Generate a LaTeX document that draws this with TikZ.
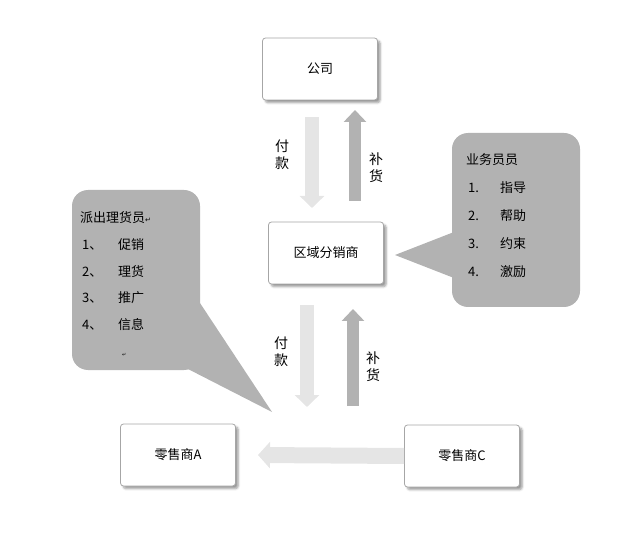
\documentclass[tikz,border=0pt]{standalone}
\usepackage{fontspec}
\setmainfont{Noto Sans CJK SC}
\newfontfamily\symfont{DejaVu Sans}
\usetikzlibrary{arrows.meta,shadows.blur}
\tikzset{
	box/.style={draw=gray!70,thick,fill=white,rounded corners=3pt,minimum width=115pt,minimum height=62pt,blur shadow={shadow blur steps=5},font=\fontsize{13}{15}\selectfont},
	bubble/.style={fill=gray!60,draw=none},
	down/.style={line width=14pt,draw=gray!20,-{Triangle[length=12pt,width=24pt]}},
	up/.style={line width=12pt,draw=gray!60,-{Triangle[length=12pt,width=22pt]}},
	lab/.style={font=\fontsize{14}{17}\selectfont,align=center,inner sep=0pt},
	txt/.style={font=\fontsize{13}{15}\selectfont,anchor=west,inner sep=0pt}
}
\begin{document}
\begin{tikzpicture}[x=1pt,y=-1pt]
		\useasboundingbox (0,0) rectangle (640,545);
		% speech bubbles
		\fill [bubble,rounded corners=16pt] (72,190) rectangle (200,370);
		\fill [bubble] (198,300) -- (272,412) -- (186,368) -- cycle;
		\fill [bubble,rounded corners=16pt] (452,133) rectangle (580,307);
		\fill [bubble] (454,232) -- (395,255) -- (454,278) -- cycle;
		\node [txt] (t0) at (80,218) {派出理货员{\symfont\scriptsize ↵}};
		\foreach \i/\w [count=\n] in {245/促销,272/理货,298/推广,325/信息}{
			\node [txt] at (82,\i) {\n、};
			\node [txt] at (118,\i) {\w};
		}
		\node [txt,font=\symfont\tiny] at (122,355) {↵};
		\node [txt] (t1) at (466,160) {业务员员};
		\foreach \i/\w [count=\n] in {188/指导,216/帮助,244/约束,272/激励}{
			\node [txt] at (468,\i) {\n.};
			\node [txt] at (500,\i) {\w};
		}
		% boxes
		\node [box] (gs) at (320,69) {公司};
		\node [box] (fx) at (326,253) {区域分销商};
		\node [box] (la) at (178,455) {零售商A};
		\node [box] (lc) at (462,456) {零售商C};
		% arrows
		\coordinate (d1a) at (312,117); \coordinate (d1b) at (312,208);
		\coordinate (u1a) at (355,201); \coordinate (u1b) at (355,110);
		\coordinate (d2a) at (307,305); \coordinate (d2b) at (307,407);
		\coordinate (u2a) at (353,406); \coordinate (u2b) at (353,309);
		\draw [down] (d1a) -- (d1b);
		\draw [up] (u1a) -- (u1b);
		\draw [down] (d2a) -- (d2b);
		\draw [up] (u2a) -- (u2b);
		\draw [line width=16pt,draw=gray!20,-{Triangle[length=12pt,width=26pt]}] (lc.west) -- (258,455);
		\node [lab] (p1) at (282,155) {付\\款};
		\node [lab] (b1) at (376,168) {补\\货};
		\node [lab] (p2) at (281,352) {付\\款};
		\node [lab] (b2) at (373,367) {补\\货};
\end{tikzpicture}
\end{document}
